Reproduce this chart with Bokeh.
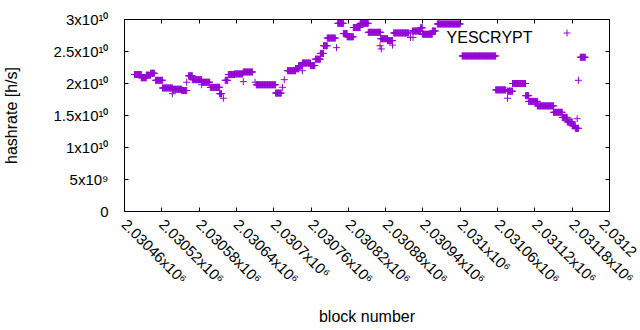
import math
import numpy as np
from bokeh.plotting import figure
from bokeh.models import (Range1d, FixedTicker, LinearAxis, Label,
                          CustomJSTickFormatter, Legend, LegendItem)
from bokeh.embed import file_html
from bokeh.resources import INLINE

# ---- data: plateaus of the hashrate estimate (block ranges) ----
seg_start = [2030476, 2030487, 2030495, 2030502, 2030510, 2030521, 2030537, 2030552,
             2030563, 2030569, 2030584, 2030598, 2030613, 2030622, 2030627, 2030637,
             2030651, 2030672, 2030703, 2030722, 2030735, 2030740, 2030746, 2030759,
             2030767, 2030775, 2030780, 2030786, 2030803, 2030812, 2030818, 2030828,
             2030839, 2030852, 2030872, 2030883, 2030893, 2030923, 2030936, 2030939,
             2030955, 2030963, 2031003, 2031057, 2031076, 2031084, 2031105, 2031110,
             2031124, 2031150, 2031164, 2031172, 2031180, 2031185, 2031193]
seg_end = [2030487, 2030495, 2030502, 2030508, 2030521, 2030537, 2030552, 2030560,
           2030569, 2030584, 2030597, 2030613, 2030616, 2030626, 2030637, 2030650,
           2030666, 2030703, 2030712, 2030735, 2030740, 2030746, 2030759, 2030766,
           2030775, 2030780, 2030786, 2030799, 2030812, 2030818, 2030828, 2030839,
           2030852, 2030872, 2030883, 2030891, 2030917, 2030936, 2030939, 2030955,
           2030960, 2031000, 2031057, 2031073, 2031084, 2031105, 2031110, 2031124,
           2031150, 2031164, 2031172, 2031180, 2031185, 2031190, 2031201]
seg_rate = [2.14e10, 2.09e10, 2.13e10, 2.16e10, 2.05e10, 1.93e10, 1.91e10, 1.89e10,
            2.12e10, 2.06e10, 2.02e10, 1.94e10, 1.84e10, 2.05e10, 2.14e10, 2.15e10,
            2.18e10, 1.98e10, 1.85e10, 2.20e10, 2.23e10, 2.28e10, 2.32e10, 2.28e10,
            2.38e10, 2.47e10, 2.59e10, 2.71e10, 2.94e10, 2.78e10, 2.73e10, 2.875e10,
            2.94e10, 2.80e10, 2.70e10, 2.67e10, 2.79e10, 2.82e10, 2.87e10, 2.77e10,
            2.82e10, 2.93e10, 2.43e10, 1.90e10, 1.88e10, 2.00e10, 1.81e10, 1.72e10,
            1.65e10, 1.55e10, 1.47e10, 1.40e10, 1.34e10, 1.30e10, 2.41e10]
# ---- isolated points ----
out_block = [2030537, 2030560, 2030584, 2030619, 2030651, 2030670, 2030714, 2030717,
             2030746, 2030801, 2030871, 2030873, 2030891, 2030920, 2030924, 2031076,
             2031188, 2031190]
out_rate = [1.84e10, 2.02e10, 1.98e10, 1.77e10, 2.03e10, 2.02e10, 1.94e10, 2.06e10,
            2.20e10, 2.56e10, 2.59e10, 2.54e10, 2.60e10, 2.72e10, 2.72e10, 1.77e10,
            1.45e10, 2.05e10]

x_ticks = [2030460, 2030520, 2030580, 2030640, 2030700, 2030760, 2030820, 2030880,
           2030940, 2031000, 2031060, 2031120, 2031180, 2031240]
# the last label runs off the right edge of the picture; only its visible start is kept
x_tick_labels = ["2.03046x10⁶", "2.03052x10⁶", "2.03058x10⁶", "2.03064x10⁶", "2.0307x10⁶",
                 "2.03076x10⁶", "2.03082x10⁶", "2.03088x10⁶", "2.03094x10⁶", "2.031x10⁶",
                 "2.03106x10⁶", "2.03112x10⁶", "2.03118x10⁶", "2.0312"]
y_ticks = [0, 5e9, 1e10, 1.5e10, 2e10, 2.5e10, 3e10]
y_tick_labels = ["0", "5x10⁹", "1x10¹⁰", "1.5x10¹⁰", "2x10¹⁰", "2.5x10¹⁰", "3x10¹⁰"]

X0, X1 = 2030460, 2031240
Y0, Y1 = 0, 3e10
COLOR = "#9400d3"
FONT = "Liberation Sans"

blocks = np.concatenate([np.arange(s, e + 1) for s, e in zip(seg_start, seg_end)] + [np.array(out_block)])
rates = np.concatenate([np.full(e - s + 1, r) for s, e, r in zip(seg_start, seg_end, seg_rate)] + [np.array(out_rate)])

p = figure(width=640, height=330, output_backend="svg", toolbar_location=None,
           x_range=Range1d(X0, X1), y_range=Range1d(Y0, Y1),
           min_border_left=124, min_border_right=31, min_border_top=19, min_border_bottom=119)
p.grid.visible = False
p.outline_line_color = "black"
p.outline_line_alpha = 1.0
p.outline_line_width = 1
p.background_fill_color = "white"
p.border_fill_color = "white"

r = p.scatter(blocks, rates, marker="cross", size=7, line_color=COLOR, line_width=1)

empty = CustomJSTickFormatter(code="return ''")


def style_axis(ax, ticks):
    ax.ticker = FixedTicker(ticks=ticks)
    ax.major_tick_in = 4
    ax.major_tick_out = 0
    ax.minor_tick_in = 0
    ax.minor_tick_out = 0
    ax.axis_line_color = "black"
    ax.major_tick_line_color = "black"
    ax.major_label_text_font = FONT
    ax.major_label_text_color = "black"
    ax.axis_label_text_font = FONT
    ax.axis_label_text_font_style = "normal"
    ax.axis_label_text_color = "black"
    ax.axis_label_text_font_size = "16px"


xa = p.xaxis[0]
style_axis(xa, x_ticks)
xa.major_label_overrides = {t: s for t, s in zip(x_ticks, x_tick_labels)}
xa.major_label_orientation = -math.pi / 4
xa.major_label_text_font_size = "15px"
xa.major_label_standoff = 10
xa.axis_label = "block number"
xa.axis_label_standoff = 12

ya = p.yaxis[0]
style_axis(ya, y_ticks)
ya.major_label_overrides = {t: s for t, s in zip(y_ticks, y_tick_labels)}
ya.major_label_text_font_size = "15px"
ya.major_label_standoff = 16
ya.axis_label = "hashrate [h/s]"
ya.axis_label_standoff = 30

for side, ticks in (("right", y_ticks), ("above", x_ticks)):
    ax = LinearAxis()
    style_axis(ax, ticks)
    ax.formatter = empty
    ax.major_label_standoff = 0
    p.add_layout(ax, side)

# key
p.add_layout(Label(x=X1, y=Y1, x_offset=-77, y_offset=-18.3, text="YESCRYPT",
                   text_align="right", text_baseline="alphabetic",
                   text_font=FONT, text_font_size="16px", text_color="black"))
legend = Legend(items=[LegendItem(label=" ", renderers=[r])], location=(434, 170),
                glyph_width=17, glyph_height=17, label_width=0, label_height=17,
                label_standoff=0, padding=0, margin=0, spacing=0,
                border_line_color=None, background_fill_alpha=0,
                label_text_font_size="1px")
p.add_layout(legend)

open("out.html", "w").write(file_html(p, INLINE))
